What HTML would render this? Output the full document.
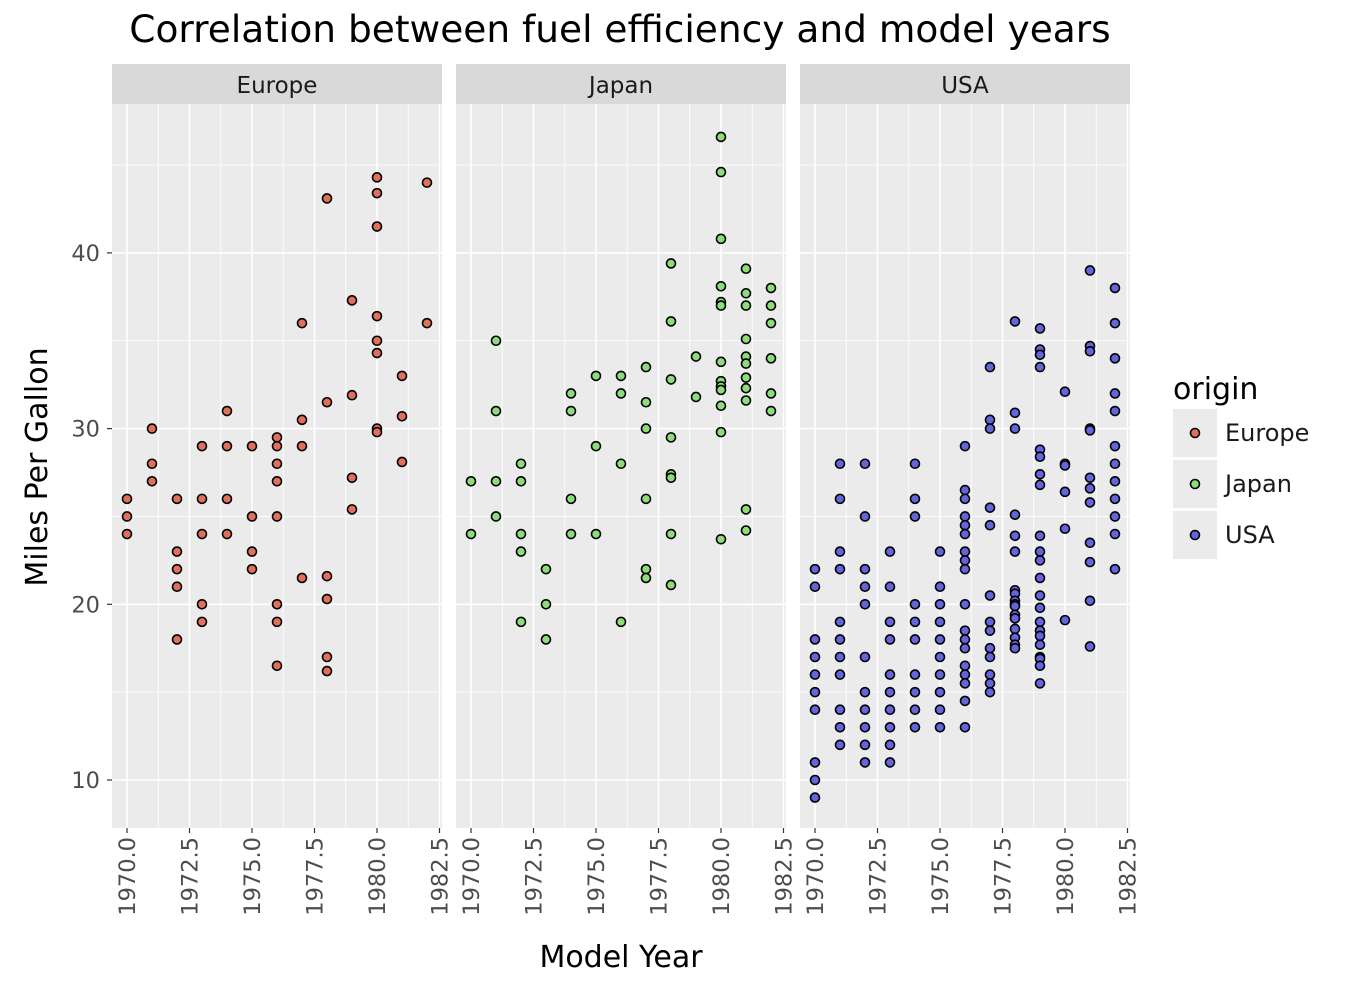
<!DOCTYPE html>
<html><head><meta charset="utf-8">
<style>
html,body{margin:0;padding:0;background:#fff;}
svg{display:block;font-family:"DejaVu Sans","Liberation Sans",sans-serif;}
</style></head>
<body>
<svg id="chart" width="1349" height="1000" viewBox="0 0 1349 1000" xmlns="http://www.w3.org/2000/svg">
<text x="620" y="42" font-size="37.5" text-anchor="middle" fill="#000">Correlation between fuel efficiency and model years</text>
<text x="621" y="967" font-size="30" text-anchor="middle" fill="#000">Model Year</text>
<text transform="translate(47,467) rotate(-90)" font-size="30" text-anchor="middle" fill="#000">Miles Per Gallon</text>
<g id="panels"></g>
<g id="legend">
<text x="1173" y="399" font-size="30" fill="#000">origin</text>
</g>
</svg>
<script>
const facets = ["Europe","Japan","USA"];
const colors = ["#e0705c","#8cdc7a","#6464dc"];
const yTicks = [10,20,30,40];
const xTickLabels = ["1970.0","1972.5","1975.0","1977.5","1980.0","1982.5"];
const europeYears = [70,70,70,71,71,71,72,72,72,72,72,73,73,73,73,73,74,74,74,74,75,75,75,75,76,76,76,76,76,76,76,76,77,77,77,77,78,78,78,78,78,78,79,79,79,79,80,80,80,80,80,80,80,80,81,81,81,82,82];
const europeMpg = [26,25,24,30,28,27,26,23,22,21,18,29,26,24,20,19,31,29,26,24,29,25,23,22,29.5,29,28,27,25,20,19,16.5,36,30.5,29,21.5,43.1,31.5,21.6,20.3,17,16.2,37.3,31.9,27.2,25.4,44.3,43.4,41.5,36.4,35,34.3,30,29.8,33,30.7,28.1,44,36];
const japanYears = [70,70,71,71,71,71,72,72,72,72,72,73,73,73,74,74,74,74,75,75,75,76,76,76,76,77,77,77,77,77,77,78,78,78,78,78,78,78,78,79,79,80,80,80,80,80,80,80,80,80,80,80,80,80,81,81,81,81,81,81,81,81,81,81,81,82,82,82,82,82,82];
const japanMpg = [27,24,35,31,27,25,28,27,24,23,19,22,20,18,32,31,26,24,33,29,24,33,32,28,19,33.5,31.5,30,26,22,21.5,39.4,36.1,32.8,29.5,27.4,27.2,24,21.1,34.1,31.8,46.6,44.6,40.8,38.1,37.2,37,33.8,32.7,32.4,32.2,31.3,29.8,23.7,39.1,37.7,37,35.1,34.1,33.7,32.9,32.3,31.6,25.4,24.2,38,37,36,34,32,31];
const usaYears = [70,70,70,70,70,70,70,70,70,70,71,71,71,71,71,71,71,71,71,71,71,72,72,72,72,72,72,72,72,72,72,72,73,73,73,73,73,73,73,73,73,73,74,74,74,74,74,74,74,74,74,74,75,75,75,75,75,75,75,75,75,75,76,76,76,76,76,76,76,76,76,76,76,76,76,76,76,76,76,76,77,77,77,77,77,77,77,77,77,77,77,77,77,78,78,78,78,78,78,78,78,78,78,78,78,78,78,78,78,78,79,79,79,79,79,79,79,79,79,79,79,79,79,79,79,79,79,79,79,79,79,79,80,80,80,80,80,80,81,81,81,81,81,81,81,81,81,81,81,81,82,82,82,82,82,82,82,82,82,82,82,82];
const usaMpg = [22,21,18,17,16,15,14,11,10,9,28,26,23,22,19,18,17,16,14,13,12,28,25,22,21,20,17,15,14,13,12,11,23,21,19,18,16,15,14,13,12,11,28,26,25,20,19,18,16,15,14,13,23,21,20,19,18,17,16,15,14,13,29,26.5,26,25,24.5,24,23,22.5,22,20,18.5,18,17.5,16.5,16,15.5,14.5,13,33.5,30.5,30,25.5,24.5,20.5,19,18.5,17.5,17,16,15.5,15,36.1,30.9,30,25.1,23.9,23,20.8,20.6,20.2,20,19.9,19.4,19.2,18.6,18.1,17.7,17.5,35.7,34.5,34.2,33.5,28.8,28.4,27.4,26.8,23.9,23,22.5,21.5,20.5,19.8,19,18.5,18.2,17.7,17,16.9,16.5,15.5,32.1,28,27.9,26.4,24.3,19.1,39,34.7,34.4,30,29.9,27.2,26.6,25.8,23.5,22.4,20.2,17.6,38,36,34,32,31,29,28,27,26,25,24,22];
const seriesYears = [europeYears, japanYears, usaYears];
const seriesMpg = [europeMpg, japanMpg, usaMpg];

const NS = "http://www.w3.org/2000/svg";
function mk(tag, attrs, parent){const e=document.createElementNS(NS,tag);for(const k in attrs)e.setAttribute(k,attrs[k]);parent.appendChild(e);return e;}
const panelLefts=[112,456,800], panelW=330, panelTop=104, panelBottom=828;
const yScale = v => 780 - (v-10)*17.57;
const xScale = (i,yr) => panelLefts[i] + 15 + ((1900+yr)-1970)*25;
const panelsG=document.getElementById('panels');
facets.forEach((f,i)=>{
  const g=mk('g',{},panelsG);
  
  
  const L=panelLefts[i];
  const strip=mk('rect',{x:L,y:64,width:panelW,height:40,fill:'#d9d9d9'},g);
  
  
  const st=mk('text',{x:L+panelW/2,y:93,'font-size':23,'text-anchor':'middle',fill:'#1a1a1a'},g);
  st.textContent=f;
  
  
  mk('rect',{x:L,y:panelTop,width:panelW,height:panelBottom-panelTop,fill:'#ebebeb'},g);
  for(let v=15;v<=45;v+=10){mk('line',{x1:L,x2:L+panelW,y1:yScale(v),y2:yScale(v),stroke:'#fff','stroke-width':0.8},g);}
  for(let k=0;k<5;k++){const x=xScale(i,70)+(k*2.5+1.25)*25;mk('line',{x1:x,x2:x,y1:panelTop,y2:panelBottom,stroke:'#fff','stroke-width':0.8},g);}
  yTicks.forEach(v=>mk('line',{x1:L,x2:L+panelW,y1:yScale(v),y2:yScale(v),stroke:'#fff','stroke-width':1.6},g));
  xTickLabels.forEach((lab,k)=>{
    const x=xScale(i,70)+k*2.5*25;
    mk('line',{x1:x,x2:x,y1:panelTop,y2:panelBottom,stroke:'#fff','stroke-width':1.6},g);
    mk('line',{x1:x,x2:x,y1:panelBottom,y2:panelBottom+5,stroke:'#333','stroke-width':1.2},g);
    const t=mk('text',{transform:`translate(${x+8},${panelBottom+9}) rotate(-90)`,'font-size':22.5,'text-anchor':'end',fill:'#4d4d4d'},g);
    t.textContent=lab;
    
    
  });
  seriesYears[i].forEach((yr,j)=>{
    const c=mk('circle',{cx:xScale(i,yr),cy:yScale(seriesMpg[i][j]),r:4.5,fill:colors[i],stroke:'#000','stroke-width':1.6},g);
    
    
  });
});
const svgEl=document.getElementById('chart');
yTicks.forEach(v=>{
  mk('line',{x1:107,x2:112,y1:yScale(v),y2:yScale(v),stroke:'#333','stroke-width':1.2},svgEl);
  const t=mk('text',{x:100,y:yScale(v)+8,'font-size':22.5,'text-anchor':'end',fill:'#4d4d4d'},svgEl);
  t.textContent=v;
  
  
});
const leg=document.getElementById('legend');
facets.forEach((f,i)=>{
  const cy=433+i*51;
  const g=mk('g',{},leg);
  
  
  mk('rect',{x:1173,y:cy-24,width:44,height:48,fill:'#ebebeb'},g);
  mk('circle',{cx:1195,cy:cy,r:4.5,fill:colors[i],stroke:'#000','stroke-width':1.6},g);
  const t=mk('text',{x:1225,y:cy+8,'font-size':24,fill:'#1a1a1a'},g);
  t.textContent=f;
});
</script>
</body></html>
